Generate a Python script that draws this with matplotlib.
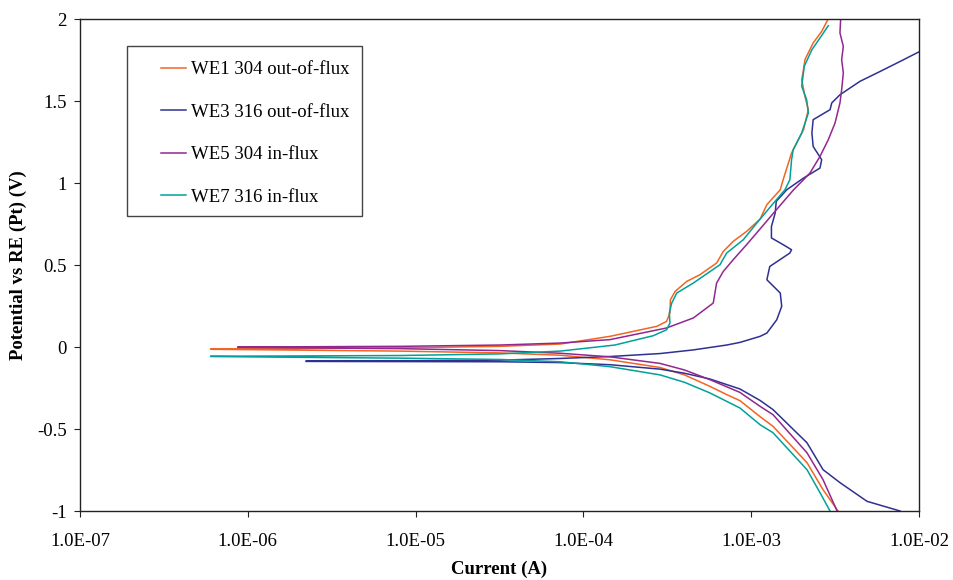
import matplotlib
matplotlib.use('Agg')
matplotlib.rcParams['font.family'] = ['Liberation Serif', 'DejaVu Serif']
matplotlib.rcParams['axes.unicode_minus'] = False
import matplotlib.pyplot as plt
from matplotlib.ticker import FixedLocator, FuncFormatter, NullLocator
from matplotlib.patches import Rectangle

# WE1 304 out-of-flux : cathodic branch (-1 V -> Ecorr) then anodic branch
we1_i = [3.29e-3, 2.68e-3, 2.15e-3, 1.35e-3, 1.13e-3, 8.57e-4, 7.14e-4, 5.67e-4, 4.0e-4, 2.86e-4, 1.44e-4,
         7.26e-5, 3.18e-5, 8.07e-6, 1.6e-6, 6.0e-7,
         6.0e-7, 1.6e-6, 8.07e-6, 3.18e-5, 7.26e-5, 1.44e-4, 2.74e-4, 3.13e-4, 3.28e-4, 3.30e-4,
         3.52e-4, 4.13e-4, 4.95e-4, 6.22e-4, 6.82e-4, 7.81e-4, 9.39e-4, 1.13e-3, 1.24e-3, 1.49e-3,
         1.55e-3, 1.74e-3, 1.82e-3, 2.05e-3, 2.19e-3, 2.09e-3, 2.00e-3, 2.05e-3, 2.09e-3, 2.34e-3,
         2.63e-3, 2.88e-3]
we1_v = [-1.0, -0.870, -0.705, -0.484, -0.425, -0.327, -0.290, -0.240, -0.170, -0.125, -0.078,
         -0.050, -0.036, -0.025, -0.018, -0.014,
         -0.012, -0.010, -0.005, 0.004, 0.018, 0.065, 0.126, 0.156, 0.207, 0.288,
         0.339, 0.400, 0.441, 0.512, 0.583, 0.644, 0.705, 0.780, 0.868, 0.959,
         1.020, 1.183, 1.223, 1.325, 1.447, 1.528, 1.630, 1.691, 1.752, 1.854,
         1.924, 2.002]

# WE3 316 out-of-flux
we3_i = [7.71e-3, 4.90e-3, 3.38e-3, 2.68e-3, 2.15e-3, 1.35e-3, 1.13e-3, 8.57e-4, 5.67e-4, 4.0e-4, 2.86e-4,
         1.44e-4, 7.26e-5, 3.18e-5, 8.07e-6, 2.22e-6,
         2.22e-6, 8.07e-6, 3.18e-5, 7.26e-5, 1.44e-4, 2.86e-4, 4.5e-4, 7.14e-4, 8.57e-4, 1.13e-3,
         1.24e-3, 1.42e-3, 1.52e-3, 1.49e-3, 1.24e-3, 1.29e-3, 1.70e-3, 1.74e-3, 1.55e-3, 1.32e-3,
         1.32e-3, 1.39e-3, 1.41e-3, 1.63e-3, 2.05e-3, 2.57e-3, 2.63e-3, 2.34e-3, 2.30e-3, 2.34e-3,
         2.95e-3, 3.02e-3, 3.38e-3, 4.45e-3, 5.86e-3, 7.71e-3, 1.01e-2]
we3_v = [-1.0, -0.941, -0.827, -0.748, -0.584, -0.382, -0.326, -0.256, -0.195, -0.160, -0.135,
         -0.108, -0.095, -0.090, -0.089, -0.088,
         -0.085, -0.084, -0.080, -0.070, -0.058, -0.040, -0.018, 0.012, 0.028, 0.065,
         0.085, 0.166, 0.248, 0.329, 0.410, 0.491, 0.573, 0.593, 0.624, 0.665,
         0.735, 0.817, 0.888, 0.959, 1.030, 1.091, 1.142, 1.223, 1.305, 1.386,
         1.447, 1.488, 1.538, 1.620, 1.680, 1.741, 1.802]

# WE5 304 in-flux
we5_i = [3.25e-3, 2.68e-3, 2.15e-3, 1.35e-3, 1.13e-3, 8.57e-4, 5.67e-4, 4.0e-4, 2.86e-4, 1.44e-4, 7.26e-5,
         3.18e-5, 8.07e-6, 1.6e-6, 8.7e-7,
         8.7e-7, 1.6e-6, 8.07e-6, 3.18e-5, 7.26e-5, 1.44e-4, 3.13e-4, 4.52e-4, 5.43e-4, 5.94e-4,
         6.08e-4, 6.22e-4, 6.82e-4, 7.81e-4, 9.39e-4, 1.13e-3, 1.36e-3, 1.79e-3, 2.05e-3, 2.24e-3,
         2.57e-3, 2.88e-3, 3.16e-3, 3.38e-3, 3.46e-3, 3.54e-3, 3.46e-3, 3.54e-3, 3.38e-3, 3.41e-3]
we5_v = [-1.0, -0.809, -0.645, -0.413, -0.362, -0.277, -0.199, -0.140, -0.100, -0.060, -0.038,
         -0.022, -0.010, -0.004, -0.002,
         0.0, 0.001, 0.004, 0.012, 0.024, 0.045, 0.116, 0.177, 0.238, 0.268,
         0.329, 0.390, 0.461, 0.532, 0.624, 0.720, 0.817, 0.959, 1.020, 1.061,
         1.162, 1.264, 1.366, 1.488, 1.569, 1.671, 1.752, 1.833, 1.915, 1.991]

# WE7 316 in-flux
we7_i = [2.95e-3, 2.57e-3, 2.15e-3, 1.35e-3, 1.13e-3, 8.57e-4, 5.67e-4, 4.0e-4, 2.86e-4, 1.44e-4, 7.26e-5,
         3.18e-5, 8.07e-6, 1.6e-6, 6.0e-7,
         6.0e-7, 1.6e-6, 8.07e-6, 3.18e-5, 7.26e-5, 1.54e-4, 2.61e-4, 3.13e-4, 3.28e-4, 3.25e-4,
         3.36e-4, 3.60e-4, 4.52e-4, 6.52e-4, 7.14e-4, 8.97e-4, 1.08e-3, 1.36e-3, 1.59e-3, 1.70e-3,
         1.74e-3, 1.78e-3, 2.00e-3, 2.19e-3, 2.14e-3, 2.00e-3, 2.07e-3, 2.30e-3, 2.57e-3, 2.88e-3]
we7_v = [-1.0, -0.888, -0.748, -0.523, -0.474, -0.372, -0.280, -0.215, -0.170, -0.120, -0.090,
         -0.076, -0.068, -0.062, -0.058,
         -0.056, -0.055, -0.052, -0.042, -0.025, 0.012, 0.069, 0.105, 0.146, 0.207,
         0.268, 0.329, 0.390, 0.502, 0.573, 0.654, 0.756, 0.878, 0.959, 1.020,
         1.142, 1.203, 1.305, 1.427, 1.508, 1.589, 1.711, 1.813, 1.884, 1.959]

labels = ['WE1 304 out-of-flux', 'WE3 316 out-of-flux', 'WE5 304 in-flux', 'WE7 316 in-flux']
colors = ['#F26522', '#2E3192', '#92278F', '#00A19A']
x_ticks = [1e-7, 1e-6, 1e-5, 1e-4, 1e-3, 1e-2]
y_ticks = [-1, -0.5, 0, 0.5, 1, 1.5, 2]

fig = plt.figure(figsize=(9.54, 5.8), dpi=100)
ax = fig.add_axes([80 / 954, 1 - 511 / 580, 839 / 954, 492 / 580])

series = [(we1_i, we1_v), (we3_i, we3_v), (we5_i, we5_v), (we7_i, we7_v)]
for (cur, pot), lab, col in zip(series, labels, colors):
    ax.plot(cur, pot, color=col, lw=1.1, label=lab)

ax.set_xscale('log')
ax.set_xlim(1e-7, 1e-2)
ax.set_ylim(-1, 2)
ax.xaxis.set_major_locator(FixedLocator(x_ticks))
ax.xaxis.set_minor_locator(NullLocator())
ax.xaxis.set_major_formatter(FuncFormatter(lambda v, p: f'{v:.1E}'))
ax.yaxis.set_major_locator(FixedLocator(y_ticks))
ax.yaxis.set_major_formatter(FuncFormatter(lambda v, p: f'{v:g}'))
ax.tick_params(direction='out', length=4.5, width=0.8, labelsize=13.5, color='#222222', pad=5)
ax.tick_params(axis='x', pad=11)
for s in ax.spines.values():
    s.set_color('#222222')
    s.set_linewidth(1.0)

ax.set_xlabel('Current (A)', fontsize=13.5, fontweight='bold', labelpad=8)
ax.set_ylabel('Potential vs RE (Pt) (V)', fontsize=13.5, fontweight='bold', labelpad=7)

# legend box
ax.add_patch(Rectangle((47 / 839, 295 / 492), 235 / 839, 170 / 492, transform=ax.transAxes,
                       fill=False, edgecolor='#444444', lw=1.0, zorder=5))
ax.legend(loc='upper left', bbox_to_anchor=(81 / 839, 0.914), frameon=False, fontsize=13.5,
          borderpad=0, handlelength=1.35, handletextpad=0.25, labelspacing=1.35, borderaxespad=0)

fig.savefig('out.png', dpi=100)
